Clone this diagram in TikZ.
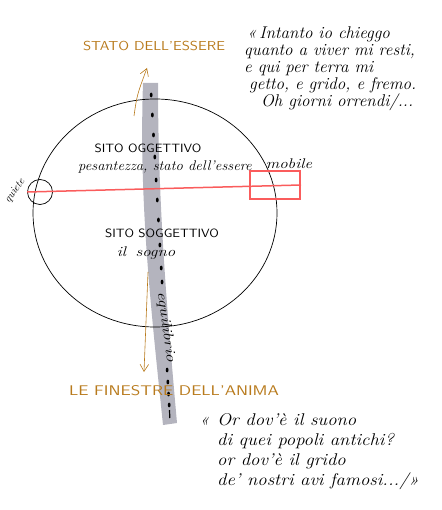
\documentclass[tikz,border=0pt]{standalone}
\usepackage{fontspec}
\usepackage{graphicx}
\usetikzlibrary{arrows.meta,positioning}
\definecolor{ochre}{RGB}{184,122,28}
\definecolor{redpen}{RGB}{250,92,92}
\definecolor{barfill}{RGB}{180,180,190}
\newcommand{\wider}[2][1.15]{\scalebox{#1}[1]{#2}}
\tikzset{
  caps/.style={font=\fontsize{12}{14}\selectfont\sffamily, inner sep=1pt},
  title/.style={text=ochre, inner sep=1pt, font=\fontsize{13}{15}\selectfont\sffamily},
  hand/.style={font=\fontsize{14}{16}\selectfont\itshape, inner sep=1pt},
  verse/.style={font=\fontsize{17}{17}\selectfont\itshape, align=left, inner sep=0pt},
  drift/.style={-{Straight Barb[length=2.5mm,width=3mm]}, ochre, semithick},
  redbox/.style={draw=redpen, line width=2pt, minimum width=50pt, minimum height=28pt, inner sep=0pt},
}

\begin{document}
\begin{tikzpicture}[x=1pt,y=-1pt]
  \useasboundingbox (0,0) rectangle (441,510);
  % grey bar with its dots
  \fill[barfill] (143,83) .. controls (139,200) and (150,300) .. (163,425)
    -- (177,423) .. controls (166,300) and (158,200) .. (158,83) -- cycle;
  \foreach \y in {95,115,135,157,180,200,220,245,268,282,370,382,394,405}
    \fill (150.5+0.058*\y-0.058*83,\y) ellipse (1.4 and 2.4);
  \draw[line width=1.2pt] (169.5,410) -- (169.8,418);
  % the big circle
  \draw[line width=0.7pt] (155,213) ellipse (122 and 114);
  % still and moving
  \node[draw, line width=0.7pt, circle, minimum size=25pt, inner sep=0pt] (rest) at (40,192) {};
  \node[redbox] (move) at (275,185) {};
  \draw[redpen, line width=1.5pt] (rest.west) -- (move.east);
  % drifts up and down
  \coordinate (up0) at (134,116);
  \coordinate (up1) at (147,68);
  \draw[drift] (up0) .. controls (137,95) .. (up1);
  \coordinate (dn0) at (148,272);
  \coordinate (dn1) at (144,372);
  \draw[drift] (dn0) -- (dn1);
  % labels
  \node[title] (being) at (154,46) {\wider{STATO DELL'ESSERE}};
  \node[title, font=\fontsize{14}{16}\selectfont\sffamily] (windows) at (174,391) {\wider[1.25]{LE FINESTRE DELL'ANIMA}};
  \node[caps] (objsite) at (148,148) {\wider[1.1]{SITO OGGETTIVO}};
  \node[hand] (weight) at (165,167) {\wider[1.05]{pesantezza, stato dell'essere}};
  \node[hand] (mobile) at (289,164) {\wider[1.2]{mobile}};
  \node[caps] (subjsite) at (162,233) {\wider[1.1]{SITO SOGGETTIVO}};
  \node[hand] (dream) at (146,253) {\wider[1.2]{il\hspace{8pt}sogno}};
  \node[hand, rotate=-82] (balance) at (166,327) {\wider[1.3]{equilibrio}};
  \node[hand, font=\fontsize{11}{12}\selectfont\itshape, rotate=55] (quiet) at (15,191) {quiete};
  % the verses
  \node[verse, anchor=north west] (chieggo) at (244,27) {%
    \hspace*{3pt}«\,Intanto io chieggo\\
    quanto a viver mi resti,\\
    e qui per terra mi\\
    \hspace*{5pt}getto, e grido, e fremo.\\
    \hspace*{17pt}Oh giorni orrendi/...};
  \node[verse, anchor=north west, font=\fontsize{17}{20}\selectfont\itshape] (suono) at (217,413) {%
    \llap{«\hspace*{8pt}}\wider[1.1]{Or dov'è il suono}\\
    \wider[1.1]{di quei popoli antichi?}\\
    \wider[1.1]{or dov'è il grido}\\
    \wider[1.1]{de' nostri avi famosi.../»}};
\end{tikzpicture}
\end{document}
